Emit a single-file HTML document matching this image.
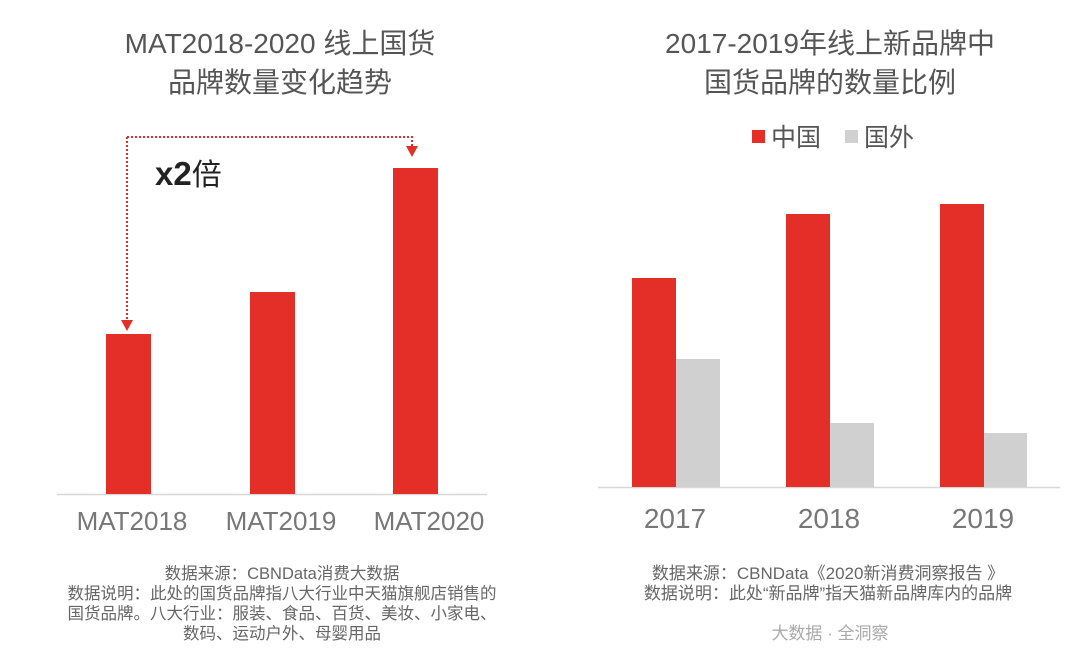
<!DOCTYPE html>
<html><head><meta charset="utf-8"><style>
html,body{margin:0;padding:0;background:#fff;width:1080px;height:662px;overflow:hidden}
svg text{font-family:"Liberation Sans","Noto Sans CJK SC",sans-serif}
</style></head><body>
<svg width="1080" height="662" viewBox="0 0 1080 662" xmlns="http://www.w3.org/2000/svg">
<rect width="1080" height="662" fill="#fff"/>
<!-- Left chart -->
<text x="280" y="53" font-size="28" fill="#555" text-anchor="middle">MAT2018-2020 线上国货</text>
<text x="280" y="92" font-size="28" fill="#555" text-anchor="middle">品牌数量变化趋势</text>
<line x1="57" y1="494.5" x2="487" y2="494.5" stroke="#d8d8d8" stroke-width="1.5"/>
<rect x="106" y="334" width="45" height="160" fill="#e32f27"/>
<rect x="250" y="292" width="45" height="202" fill="#e32f27"/>
<rect x="393" y="168" width="45" height="326" fill="#e32f27"/>
<path d="M127 137 H412 V150 M127 137 V322" fill="none" stroke="#e32f27" stroke-width="2" stroke-dasharray="2 2"/>
<polygon points="121,320 133,320 127,331" fill="#e32f27"/>
<polygon points="406,146 418,146 412,157" fill="#e32f27"/>
<text x="155" y="185" font-size="33" font-weight="bold" fill="#222">x2<tspan font-weight="normal" font-size="30">倍</tspan></text>
<text x="132" y="530" font-size="26" fill="#777" text-anchor="middle">MAT2018</text>
<text x="281" y="530" font-size="26" fill="#777" text-anchor="middle">MAT2019</text>
<text x="429" y="530" font-size="26" fill="#777" text-anchor="middle">MAT2020</text>
<g font-size="16.5" fill="#666" text-anchor="middle">
<text x="282" y="579">数据来源：CBNData消费大数据</text>
<text x="282" y="599">数据说明：此处的国货品牌指八大行业中天猫旗舰店销售的</text>
<text x="282" y="619">国货品牌。八大行业：服装、食品、百货、美妆、小家电、</text>
<text x="282" y="639">数码、运动户外、母婴用品</text>
</g>
<!-- Right chart -->
<text x="830" y="53" font-size="28" fill="#555" text-anchor="middle">2017-2019年线上新品牌中</text>
<text x="830" y="92" font-size="28" fill="#555" text-anchor="middle">国货品牌的数量比例</text>
<rect x="752" y="130" width="13" height="13" fill="#e32f27"/>
<text x="771" y="146" font-size="25" fill="#555">中国</text>
<rect x="845" y="130" width="13" height="13" fill="#d0d0d0"/>
<text x="864" y="146" font-size="25" fill="#555">国外</text>
<line x1="598" y1="487.5" x2="1060" y2="487.5" stroke="#d8d8d8" stroke-width="1.5"/>
<rect x="632" y="278" width="44" height="209" fill="#e32f27"/>
<rect x="676" y="359" width="44" height="128" fill="#d0d0d0"/>
<rect x="786" y="214" width="44" height="273" fill="#e32f27"/>
<rect x="830" y="423" width="44" height="64" fill="#d0d0d0"/>
<rect x="940" y="204" width="44" height="283" fill="#e32f27"/>
<rect x="984" y="433" width="43" height="54" fill="#d0d0d0"/>
<text x="675" y="528" font-size="28" fill="#777" text-anchor="middle">2017</text>
<text x="829" y="528" font-size="28" fill="#777" text-anchor="middle">2018</text>
<text x="983" y="528" font-size="28" fill="#777" text-anchor="middle">2019</text>
<g font-size="17" fill="#666" text-anchor="middle">
<text x="828" y="579">数据来源：CBNData《2020新消费洞察报告 》</text>
<text x="828" y="599">数据说明：此处“新品牌”指天猫新品牌库内的品牌</text>
</g>
<text x="830" y="639" font-size="17" fill="#aaa" text-anchor="middle">大数据 · 全洞察</text>
</svg>
</body></html>
